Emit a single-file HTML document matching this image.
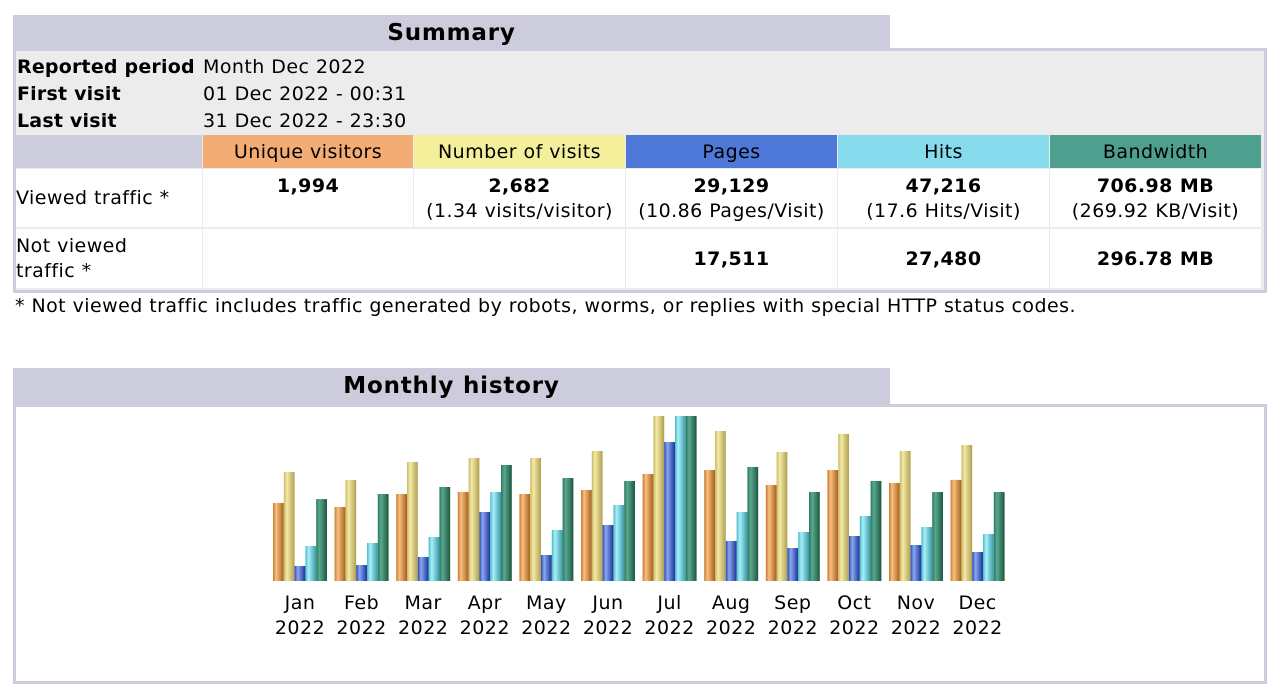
<!DOCTYPE html>
<html><head><meta charset="utf-8">
<style>
body{margin:0;width:1280px;height:664px;overflow:hidden;background:#fff;font-family:"DejaVu Sans","Liberation Sans",sans-serif;font-size:19px;letter-spacing:0.45px;color:#000;position:relative}
.abs{position:absolute}
.tab{background:#ccccdd;font-weight:bold;font-size:23px;text-align:center;box-sizing:border-box;letter-spacing:0.8px}
.box{border:3px solid #ccccdd;box-sizing:border-box}
.cell{position:absolute;box-sizing:border-box;text-align:center}
.b{font-weight:bold}
</style></head><body>
<div class="abs tab" style="left:13px;top:15px;width:877px;height:34px;line-height:36px">Summary</div>
<div class="abs box" style="left:13px;top:48px;width:1254px;height:245px;background:#ececec">
</div>
<div class="abs" style="left:16px;top:52px;width:1248px;height:83px;background:#ececec"></div>
<div class="abs b" style="left:17px;top:56px;letter-spacing:0.2px">Reported period</div>
<div class="abs" style="left:203px;top:56px">Month Dec 2022</div>
<div class="abs b" style="left:17px;top:83px;letter-spacing:0.2px">First visit</div>
<div class="abs" style="left:203px;top:83px">01 Dec 2022 - 00:31</div>
<div class="abs b" style="left:17px;top:110px;letter-spacing:0.2px">Last visit</div>
<div class="abs" style="left:203px;top:110px">31 Dec 2022 - 23:30</div>

<div class="cell" style="left:16px;top:135px;width:186px;height:33px;background:#ccccdd"></div>
<div class="cell" style="left:203px;top:135px;width:210px;height:33px;line-height:35px;background:#f3ad74">Unique visitors</div>
<div class="cell" style="left:414px;top:135px;width:211px;height:33px;line-height:35px;background:#f3ef9a">Number of visits</div>
<div class="cell" style="left:626px;top:135px;width:211px;height:33px;line-height:35px;background:#4f79d8">Pages</div>
<div class="cell" style="left:838px;top:135px;width:211px;height:33px;line-height:35px;background:#85dbec">Hits</div>
<div class="cell" style="left:1050px;top:135px;width:211px;height:33px;line-height:35px;background:#4f9f8f">Bandwidth</div>

<div class="cell" style="left:16px;top:169px;width:186px;height:58px;background:#fff;text-align:left;padding-top:18px">Viewed traffic *</div>
<div class="cell" style="left:203px;top:169px;width:210px;height:58px;background:#fff;padding-top:5px;line-height:25px"><span class="b">1,994</span></div>
<div class="cell" style="left:414px;top:169px;width:211px;height:58px;background:#fff;padding-top:5px;line-height:25px"><span class="b">2,682</span><br>(1.34 visits/visitor)</div>
<div class="cell" style="left:626px;top:169px;width:211px;height:58px;background:#fff;padding-top:5px;line-height:25px"><span class="b">29,129</span><br>(10.86 Pages/Visit)</div>
<div class="cell" style="left:838px;top:169px;width:211px;height:58px;background:#fff;padding-top:5px;line-height:25px"><span class="b">47,216</span><br>(17.6 Hits/Visit)</div>
<div class="cell" style="left:1050px;top:169px;width:211px;height:58px;background:#fff;padding-top:5px;line-height:25px"><span class="b">706.98 MB</span><br>(269.92 KB/Visit)</div>

<div class="cell" style="left:16px;top:229px;width:186px;height:59px;background:#fff;text-align:left;padding-top:5px;line-height:25px">Not viewed<br>traffic *</div>
<div class="cell" style="left:203px;top:229px;width:422px;height:59px;background:#fff"></div>
<div class="cell b" style="left:626px;top:229px;width:211px;height:59px;background:#fff;line-height:60px">17,511</div>
<div class="cell b" style="left:838px;top:229px;width:211px;height:59px;background:#fff;line-height:60px">27,480</div>
<div class="cell b" style="left:1050px;top:229px;width:211px;height:59px;background:#fff;line-height:60px">296.78 MB</div>

<div class="abs" style="left:15px;top:295px">* Not viewed traffic includes traffic generated by robots, worms, or replies with special HTTP status codes.</div>

<div class="abs tab" style="left:13px;top:368px;width:877px;height:37px;line-height:37px">Monthly history</div>
<div class="abs box" style="left:13px;top:404px;width:1254px;height:280px;background:#fff"></div>
<svg class="abs" style="left:0;top:0" width="1280" height="664" id="chart">
<defs>
<linearGradient id="g0" x1="0" x2="1"><stop offset="0" stop-color="#c8782e"/><stop offset=".3" stop-color="#f8c080"/><stop offset="1" stop-color="#a8601c"/></linearGradient>
<linearGradient id="g1" x1="0" x2="1"><stop offset="0" stop-color="#c8b860"/><stop offset=".3" stop-color="#f4eaa8"/><stop offset="1" stop-color="#b0a050"/></linearGradient>
<linearGradient id="g2" x1="0" x2="1"><stop offset="0" stop-color="#2a48b8"/><stop offset=".3" stop-color="#8aa8f0"/><stop offset="1" stop-color="#1c3498"/></linearGradient>
<linearGradient id="g3" x1="0" x2="1"><stop offset="0" stop-color="#48b8c8"/><stop offset=".3" stop-color="#a8f0f8"/><stop offset="1" stop-color="#3898a8"/></linearGradient>
<linearGradient id="g4" x1="0" x2="1"><stop offset="0" stop-color="#2a7858"/><stop offset=".3" stop-color="#5aa890"/><stop offset="1" stop-color="#1c5840"/></linearGradient>
</defs>
</svg>
<script>
const months=["Jan","Feb","Mar","Apr","May","Jun","Jul","Aug","Sep","Oct","Nov","Dec"];
const year="2022";
const visitors=[1538,1459,1716,1755,1716,1795,2110,2189,1893,2189,1933,1994];
const visits=[2150,1992,2347,2426,2426,2564,3254,2958,2544,2899,2564,2682];
const pages=[15069,16074,24110,69317,26120,56258,139639,40184,33152,45207,36166,29129];
const hits=[35161,38175,44202,89409,51235,76350,165761,69317,49225,65299,54248,47216];
const bandwidthMB=[651,691,747,922,818,795,1311,906,707,795,707,707];
const svg=document.getElementById('chart');
const NS='http://www.w3.org/2000/svg';
const base=581,maxH=165,x0=273,pitch=61.6,bw=10.8;
const vMax=Math.max(...visits),hMax=Math.max(...hits),bMax=Math.max(...bandwidthMB);
const series=[[visitors,vMax],[visits,vMax],[pages,hMax],[hits,hMax],[bandwidthMB,bMax]];
const names=['visitors','visits','pages','hits','bandwidth'];
months.forEach((m,i)=>{
  series.forEach((s,j)=>{
    const h=s[0][i]/s[1]*maxH;
    const r=document.createElementNS(NS,'rect');
    r.setAttribute('x',x0+i*pitch+j*bw);
    r.setAttribute('y',base-h);
    r.setAttribute('width',bw);
    r.setAttribute('height',h);
    r.setAttribute('fill','url(#g'+j+')');
    
    
    svg.appendChild(r);
  });
  const cx=x0+i*pitch+2.5*bw;
  [[m,609],[year,634]].forEach(([t,y],k)=>{
    const tx=document.createElementNS(NS,'text');
    tx.setAttribute('x',cx);tx.setAttribute('y',y);
    tx.setAttribute('text-anchor','middle');
    tx.setAttribute('font-size','19');
    tx.setAttribute('letter-spacing','0.5');
    tx.setAttribute('font-family','DejaVu Sans, sans-serif');
    tx.textContent=t;
    
    
    svg.appendChild(tx);
  });
});
</script>
</body></html>
